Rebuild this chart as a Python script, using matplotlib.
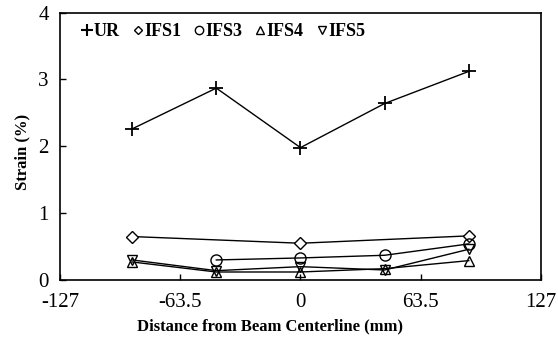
import matplotlib
matplotlib.use("Agg")
import matplotlib.pyplot as plt
from matplotlib.lines import Line2D

plt.rcParams['font.family'] = ['Liberation Serif', 'DejaVu Serif']

# Gauge positions (mm from beam centerline) and strains (%)
x_all = [-88.9, -44.45, 0.0, 44.45, 88.9]
ur = [2.26, 2.87, 1.98, 2.64, 3.12]

x_ifs1 = [-88.9, 0.0, 88.9]
ifs1 = [0.65, 0.55, 0.66]

x_ifs3 = [-44.45, 0.0, 44.45, 88.9]
ifs3 = [0.30, 0.33, 0.37, 0.54]

ifs4 = [0.27, 0.12, 0.12, 0.17, 0.29]
ifs5 = [0.30, 0.14, 0.20, 0.15, 0.46]

x_ticks = [-127, -63.5, 0, 63.5, 127]
x_ticklabels = ["-127", "-63.5", "0", "63.5", "127"]
y_ticks = [0, 1, 2, 3, 4]

fig = plt.figure(figsize=(5.58, 3.39), dpi=100)
ax = fig.add_axes([0.1075, 0.174, 0.862, 0.789])

lw = 1.0
ax.plot(x_all, ur, color='black', lw=lw, marker='+', ms=10, mew=1.3)
ax.plot(x_ifs1, ifs1, color='black', lw=lw, marker='D', ms=6, mfc='white', mew=1.0)
ax.plot(x_ifs3, ifs3, color='black', lw=lw, marker='o', ms=8, mfc='none', mew=1.0)
ax.plot(x_all, ifs4, color='black', lw=lw, marker='^', ms=7, mfc='none', mew=1.0)
ax.plot(x_all, ifs5, color='black', lw=lw, marker='v', ms=7, mfc='none', mew=1.0)

ax.set_xlim(-127, 127)
ax.set_ylim(0, 4)
ax.set_xticks(x_ticks)
ax.set_xticklabels(x_ticklabels)
ax.set_yticks(y_ticks)
ax.tick_params(direction='in', length=4, width=1, labelsize=15)
ax.tick_params(axis='x', pad=9)
ax.tick_params(axis='y', pad=8)
for s in ax.spines.values():
    s.set_linewidth(1.2)

ax.set_xlabel("Distance from Beam Centerline (mm)", fontsize=12, fontweight='bold')
ax.xaxis.set_label_coords(0.436, -0.145)
ax.set_ylabel("Strain (%)", fontsize=12, fontweight='bold')
ax.yaxis.set_label_coords(-0.062, 0.48)

handles = [
    Line2D([], [], color='black', ls='none', marker='+', ms=8, mew=1.5),
    Line2D([], [], color='black', ls='none', marker='D', ms=4.5, mfc='white', mew=1.0),
    Line2D([], [], color='black', ls='none', marker='o', ms=6, mfc='none', mew=1.0),
    Line2D([], [], color='black', ls='none', marker='^', ms=6, mfc='none', mew=1.0),
    Line2D([], [], color='black', ls='none', marker='v', ms=6, mfc='none', mew=1.0),
]
labels = ["UR", "IFS1", "IFS3", "IFS4", "IFS5"]
ax.legend(handles, labels, ncol=5, loc='upper left', bbox_to_anchor=(0.025, 1.0),
          frameon=False, handlelength=0.5, handletextpad=0.1, columnspacing=0.75,
          prop={'family': 'Liberation Serif', 'weight': 'bold', 'size': 13},
          borderaxespad=0.2)

fig.savefig("out.png", dpi=100)
